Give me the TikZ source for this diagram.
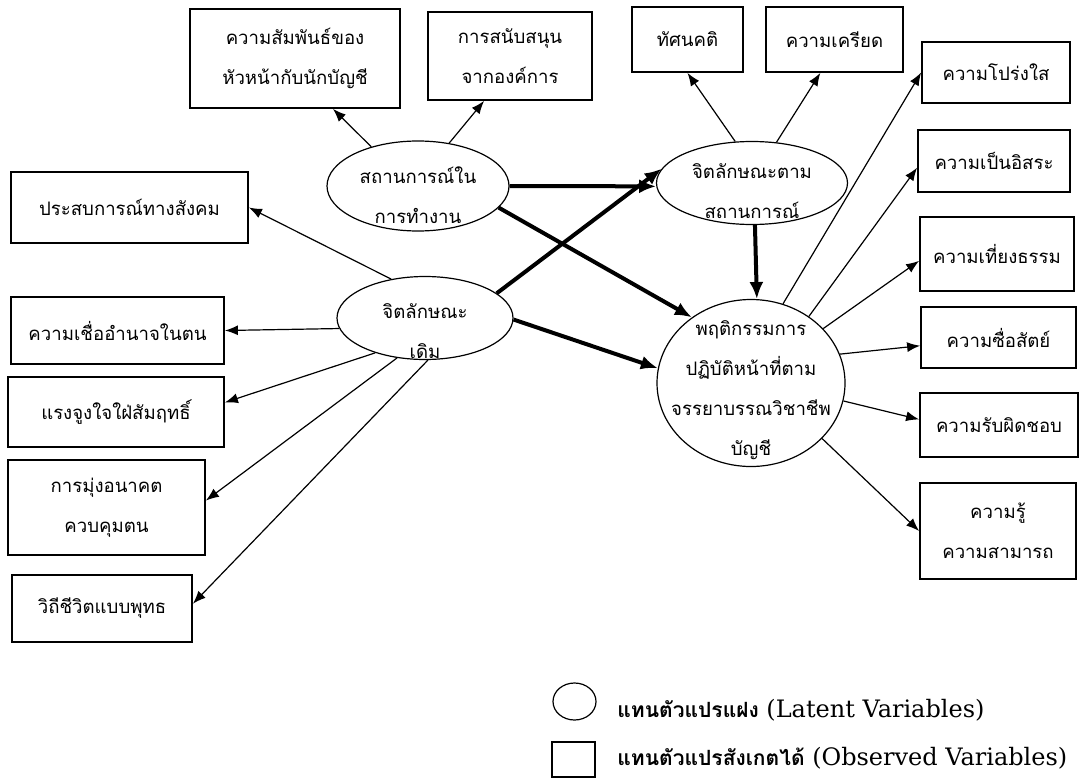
\documentclass[tikz,border=0pt]{standalone}
\usepackage{fontspec}
\setmainfont{DejaVu Serif}
\newfontfamily\thai[Script=Thai]{Loma}
\usetikzlibrary{arrows.meta, shapes.geometric}
\tikzstyle{latent}=[ellipse, draw, line width=0.6pt, inner sep=0pt]
\tikzstyle{observed}=[rectangle, draw, line width=0.9pt, inner sep=0pt, align=center, font=\thai\fontsize{9.3}{20}\selectfont]
\tikzstyle{caption}=[align=center, inner sep=0pt, font=\thai\fontsize{9.3}{20}\selectfont]
\tikzstyle{keytext}=[anchor=west, inner sep=0pt, font=\fontsize{12}{14}\selectfont]
\newcommand{\latent}{\node[latent]}
\newcommand{\observed}{\node[observed]}

\begin{document}
\begin{tikzpicture}[x=0.5pt, y=-0.5pt,
            every edge/.style={draw, line width=0.6pt, -{Latex[length=6.5pt,width=5pt]}},
            strong/.style={line width=2pt, -{Latex[length=8.5pt,width=7pt]}}
        ]
            \useasboundingbox (0,0) rectangle (1079,781);

            \latent (e1) at (418,186) [minimum width=91pt, minimum height=45pt]{};
            \latent (e2) at (752,183) [minimum width=95.5pt, minimum height=41.5pt]{};
            \latent (e3) at (425,318) [minimum width=88pt, minimum height=41.5pt]{};
            \latent (c) at (751,383) [minimum width=94pt, minimum height=83.5pt]{};
            \node[caption] (e1t) at (418,195) {สถานการณ์ใน\\การทำงาน};
            \node[caption] (e2t) at (752,191) {จิตลักษณะตาม\\สถานการณ์};
            \node[caption] (e3t) at (425,331) {จิตลักษณะ\\เดิม};
            \node[caption] (ct) at (751,390) {พฤติกรรมการ\\ปฏิบัติหน้าที่ตาม\\จรรยาบรรณวิชาชีพ\\บัญชี};

            \observed (b1) at (295,58.5) [minimum width=105pt, minimum height=49.5pt]{ความสัมพันธ์ของ\\หัวหน้ากับนักบัญชี};
            \observed (b2) at (510,56) [minimum width=82pt, minimum height=44pt]{การสนับสนุน\\จากองค์การ};
            \observed (b3) at (687.5,39.5) [minimum width=55.5pt, minimum height=32.5pt]{ทัศนคติ};
            \observed (b4) at (834.5,39.5) [minimum width=68.5pt, minimum height=32.5pt]{ความเครียด};

            \observed (b5) at (996,72.5) [minimum width=74pt, minimum height=30.5pt]{ความโปร่งใส};
            \observed (b6) at (994,161) [minimum width=76pt, minimum height=31pt]{ความเป็นอิสระ};
            \observed (b7) at (997,254) [minimum width=77pt, minimum height=37pt]{ความเที่ยงธรรม};
            \observed (b8) at (998.5,337.5) [minimum width=77.5pt, minimum height=30.5pt]{ความซื่อสัตย์};
            \observed (b9) at (999,425) [minimum width=79pt, minimum height=32pt]{ความรับผิดชอบ};
            \observed (b10) at (998,531) [minimum width=78pt, minimum height=48pt]{ความรู้\\ความสามารถ};

            \observed (l1) at (129.5,207.5) [minimum width=118.5pt, minimum height=35.5pt]{ประสบการณ์ทางสังคม};
            \observed (l2) at (117.5,330.5) [minimum width=106.5pt, minimum height=33.5pt]{ความเชื่ออำนาจในตน};
            \observed (l3) at (116,412) [minimum width=108pt, minimum height=35pt]{แรงจูงใจใฝ่สัมฤทธิ์};
            \observed (l4) at (106.5,507.5) [minimum width=98.5pt, minimum height=47.5pt]{การมุ่งอนาคต\\ควบคุมตน};
            \observed (l5) at (102,608.5) [minimum width=90pt, minimum height=33.5pt]{วิถีชีวิตแบบพุทธ};

            \latent (key1) at (574.5,701.5) [minimum width=21.5pt, minimum height=18.5pt]{};
            \observed (key2) at (573.5,759.5) [minimum width=21.5pt, minimum height=17.5pt]{};
            \node[keytext] (key1t) at (617,710) {{\thai\fontsize{10.5}{14}\selectfont\bfseries แทนตัวแปรแฝง} (Latent Variables)};
            \node[keytext] (key2t) at (617,758) {{\thai\fontsize{10.5}{14}\selectfont\bfseries แทนตัวแปรสังเกตได้} (Observed Variables)};

            \path
                (e1.east) edge[strong] (e2.182)
                (e1.345) edge[strong] (c.132)
                (e3.19) edge[strong] (e2.171)
                (e3.359) edge[strong] (c.171)
                (e2.274) edge[strong] (c.86)

                (e1.140) edge (b1.307)
                (e1.54) edge (b2.240)
                (e2.112) edge (b3.south)
                (e2.59) edge (b4.247)

                (c.68) edge (b5.west)
                (c.49) edge (b6.185)
                (c.37) edge (b7.185)
                (c.18) edge (b8.186)
                (c.349) edge (b9.176)
                (c.322) edge (b10.west)

                (e3.131) edge (l1.east)
                (e3.187) edge (l2.east)
                (e3.215) edge (l3.5)
                (e3.235) edge (l4.4)
                (e3.274) edge (l5.3)
            ;
        \end{tikzpicture}
\end{document}
